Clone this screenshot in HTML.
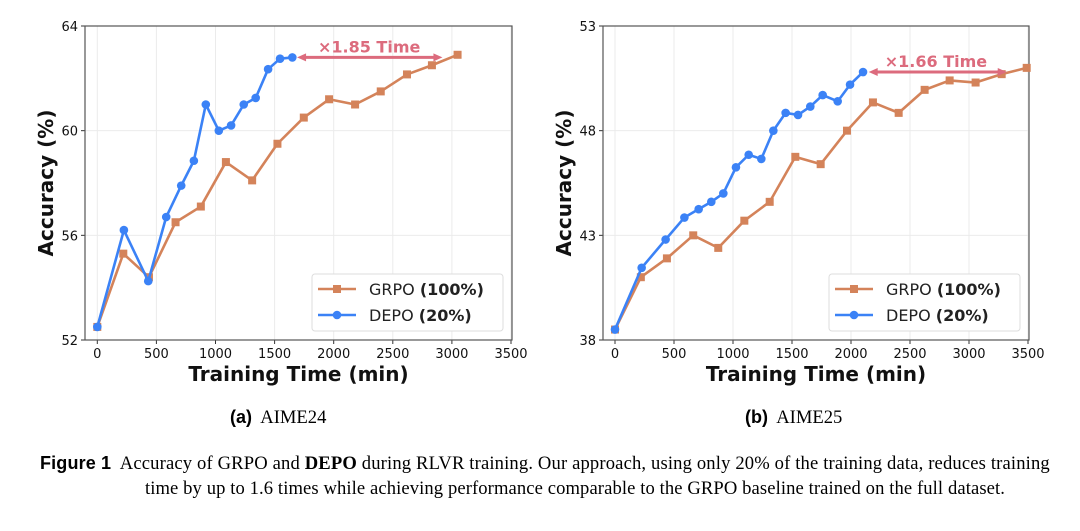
<!DOCTYPE html>
<html><head><meta charset="utf-8"><style>
body{margin:0;width:1080px;height:531px;background:#fff;overflow:hidden;position:relative}
svg{position:absolute;left:0;top:0}
.cap{position:absolute;font-family:"Liberation Serif",serif;font-size:18.6px;color:#000;white-space:nowrap}
.sans{font-family:"Liberation Sans",sans-serif;font-weight:bold;font-size:18px}
</style></head><body>
<svg id="chart" width="1080" height="531" xmlns="http://www.w3.org/2000/svg"></svg>
<div class="cap" style="left:230px;top:407px"><span class="sans">(a)</span>&nbsp; AIME24</div>
<div class="cap" style="left:745px;top:407px"><span class="sans">(b)</span>&nbsp; AIME25</div>
<div class="cap" style="left:40px;top:453px;letter-spacing:0.15px"><span class="sans">Figure 1</span>&nbsp; Accuracy of GRPO and <b>DEPO</b> during RLVR training. Our approach, using only 20% of the training data, reduces training</div>
<div class="cap" style="left:0;width:1150px;text-align:center;top:478px;letter-spacing:0.1px">time by up to 1.6 times while achieving performance comparable to the GRPO baseline trained on the full dataset.</div>
<script>
const xTicks=[0,500,1000,1500,2000,2500,3000,3500];
const aYTicks=[52,56,60,64];
const aGrpoX=[0,220,437,662,876,1088,1310,1524,1747,1961,2181,2398,2620,2831,3048];
const aGrpoY=[52.5,55.3,54.4,56.5,57.1,58.8,58.1,59.5,60.5,61.2,61.0,61.5,62.15,62.5,62.9];
const aDepoX=[0,225,431,583,710,817,918,1028,1132,1239,1340,1445,1546,1650];
const aDepoY=[52.5,56.2,54.25,56.7,57.9,58.85,61.0,60.0,60.2,61.0,61.25,62.35,62.75,62.8];
const bYTicks=[38,43,48,53];
const bGrpoX=[0,219,440,663,875,1096,1311,1528,1743,1966,2186,2404,2624,2836,3056,3277,3489];
const bGrpoY=[38.5,41.0,41.9,43.0,42.4,43.7,44.6,46.75,46.4,48.0,49.35,48.85,49.95,50.4,50.3,50.7,51.0];
const bDepoX=[0,226,429,588,709,816,918,1025,1133,1240,1342,1446,1551,1655,1760,1887,1992,2102];
const bDepoY=[38.5,41.45,42.8,43.85,44.25,44.6,45.0,46.25,46.85,46.65,48.0,48.85,48.75,49.15,49.7,49.4,50.2,50.8];
const NS="http://www.w3.org/2000/svg";
const svg=document.getElementById('chart');
function mk(t,a,p){const e=document.createElementNS(NS,t);for(const k in a)e.setAttribute(k,a[k]);(p||svg).appendChild(e);return e;}
const GC="#d4835a",DC="#3b82f6",AC="#dc6b7d";
function panel(id,L,R,x0px,ymin,ymax,yTicks,gx,gy,dx,dy,arrowFrom,arrowTo,arrowY,label,labelX){
  const T=26,B=340;
  const g=mk('g',{});
  
  
  const sx=v=>x0px+v*((R-1-x0px)/3500);
  const sy=v=>B-(v-ymin)/(ymax-ymin)*(B-T);
  xTicks.forEach(t=>{
    mk('line',{x1:sx(t),x2:sx(t),y1:T,y2:B,stroke:'#ebebeb','stroke-width':1},g);
    mk('line',{x1:sx(t),x2:sx(t),y1:B,y2:B+4,stroke:'#333'},g);
    const tx=mk('text',{x:sx(t),y:B+18,'text-anchor':'middle','font-family':'DejaVu Sans, sans-serif','font-size':13,fill:'#111'},g);
    tx.textContent=t;
    
  });
  yTicks.forEach(t=>{
    mk('line',{x1:L,x2:R,y1:sy(t),y2:sy(t),stroke:'#ebebeb','stroke-width':1},g);
    mk('line',{x1:L-4,x2:L,y1:sy(t),y2:sy(t),stroke:'#333'},g);
    const tx=mk('text',{x:L-7,y:sy(t)+5,'text-anchor':'end','font-family':'DejaVu Sans, sans-serif','font-size':13,fill:'#111'},g);
    tx.textContent=t;
    
  });
  const fr=mk('rect',{x:L,y:T,width:R-L,height:B-T,fill:'none',stroke:'#555','stroke-width':1.2},g);
  
  function series(xs,ys,c,sq,name){
    const pl=mk('polyline',{points:xs.map((x,i)=>sx(x)+','+sy(ys[i])).join(' '),fill:'none',stroke:c,'stroke-width':2.6,'stroke-linejoin':'round'},g);
    
    xs.forEach((x,i)=>{
      let m;
      if(sq)m=mk('rect',{x:sx(x)-4,y:sy(ys[i])-4,width:8,height:8,fill:c},g);
      else m=mk('circle',{cx:sx(x),cy:sy(ys[i]),r:4.3,fill:c},g);
      
    });
  }
  series(gx,gy,GC,true,'grpo');
  series(dx,dy,DC,false,'depo');
  const a1=sx(arrowFrom),a2=sx(arrowTo),ay=sy(arrowY);
  const ar=mk('line',{x1:a1+6,x2:a2-6,y1:ay,y2:ay,stroke:AC,'stroke-width':3},g);
  
  mk('polygon',{points:`${a1},${ay} ${a1+9},${ay-4} ${a1+9},${ay+4}`,fill:AC},g);
  mk('polygon',{points:`${a2},${ay} ${a2-9},${ay-4} ${a2-9},${ay+4}`,fill:AC},g);
  const lt=mk('text',{x:sx(labelX),y:ay-5,'text-anchor':'middle','font-family':'DejaVu Sans, sans-serif','font-size':16,'font-weight':'bold',fill:AC},g);
  lt.textContent=label;
  
  const lx=R-200,ly=274;
  const lb=mk('rect',{x:lx,y:ly,width:191,height:57,rx:3,fill:'#fff',stroke:'#ddd'},g);
  
  [[GC,true,'GRPO','(100%)',ly+18],[DC,false,'DEPO','(20%)',ly+44]].forEach(([c,sq,n,p,yy])=>{
    mk('line',{x1:lx+6,x2:lx+44,y1:yy-3,y2:yy-3,stroke:c,'stroke-width':2.6},g);
    if(sq)mk('rect',{x:lx+21,y:yy-7,width:8,height:8,fill:c},g);else mk('circle',{cx:lx+25,cy:yy-3,r:4.3,fill:c},g);
    const t=mk('text',{x:lx+57,y:yy+3,'font-family':'DejaVu Sans, sans-serif','font-size':16,fill:'#222'},g);
    
    t.innerHTML=n+' <tspan font-weight="bold">'+p+'</tspan>';
  });
  const xt=mk('text',{x:(L+R)/2,y:381,'text-anchor':'middle','font-family':'DejaVu Sans, sans-serif','font-size':20,'font-weight':'bold',fill:'#111'},g);
  xt.textContent='Training Time (min)';
  
  const yt=mk('text',{x:0,y:0,transform:`translate(${L-32},${(T+B)/2}) rotate(-90)`,'text-anchor':'middle','font-family':'DejaVu Sans, sans-serif','font-size':20,'font-weight':'bold',fill:'#111'},g);
  yt.textContent='Accuracy (%)';
  
}
panel('chart-aime24',85,512,97.3,52,64,aYTicks,aGrpoX,aGrpoY,aDepoX,aDepoY,1690,2920,62.8,'×1.85 Time',2300);
panel('chart-aime25',603,1029,615,38,53,bYTicks,bGrpoX,bGrpoY,bDepoX,bDepoY,2150,3320,50.8,'×1.66 Time',2720);
</script>
</body></html>
